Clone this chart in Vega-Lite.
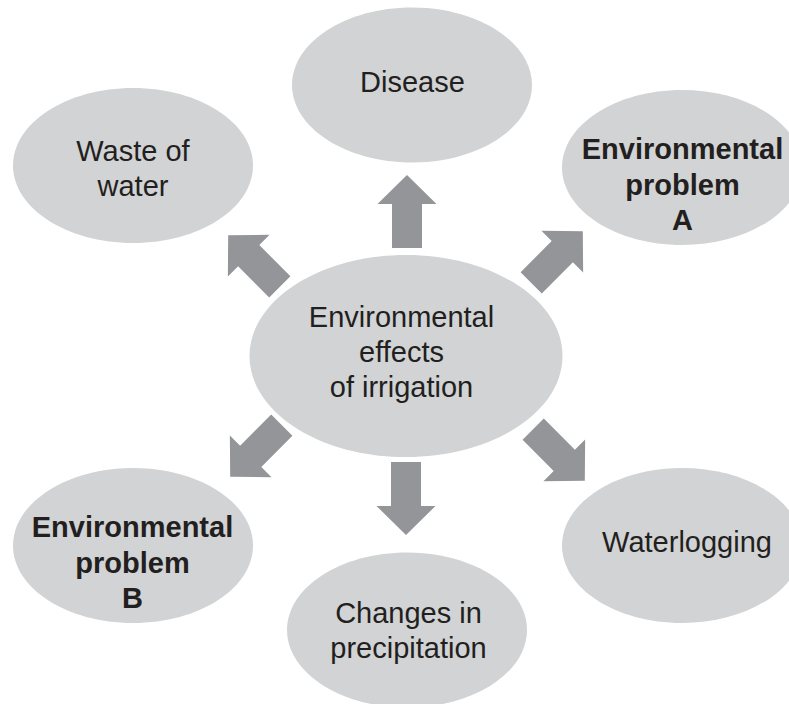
{
  "$schema": "https://vega.github.io/schema/vega-lite/v6.json",
  "width": 789,
  "height": 704,
  "autosize": {"type": "none"},
  "padding": 0,
  "background": "white",
  "config": {"view": {"stroke": null}},
  "datasets": {
    "nodes": [
      {"name": "Disease", "label": "Disease", "role": "effect", "bold": false, "cx": 412, "cy": 85, "tx": 412.5, "ty": 83},
      {"name": "Waste of water", "label": "Waste of\nwater", "role": "effect", "bold": false, "cx": 133, "cy": 165.5, "tx": 133, "ty": 152},
      {"name": "Environmental problem A", "label": "Environmental\nproblem\nA", "role": "effect", "bold": true, "cx": 682, "cy": 167.5, "tx": 682.5, "ty": 150},
      {"name": "Environmental effects of irrigation", "label": "Environmental\neffects\nof irrigation", "role": "hub", "bold": false, "cx": 406, "cy": 356, "tx": 401.5, "ty": 318},
      {"name": "Environmental problem B", "label": "Environmental\nproblem\nB", "role": "effect", "bold": true, "cx": 133, "cy": 545.5, "tx": 132.5, "ty": 528},
      {"name": "Changes in precipitation", "label": "Changes in\nprecipitation", "role": "effect", "bold": false, "cx": 407, "cy": 630, "tx": 408.5, "ty": 614},
      {"name": "Waterlogging", "label": "Waterlogging", "role": "effect", "bold": false, "cx": 682, "cy": 545.5, "tx": 687, "ty": 543}
    ],
    "arrows": [
      {"to": "Disease", "ax": 407, "ay": 211.5, "heading": 0},
      {"to": "Environmental problem A", "ax": 557, "ay": 257, "heading": 45},
      {"to": "Waterlogging", "ax": 559, "ay": 455, "heading": 135},
      {"to": "Changes in precipitation", "ax": 406, "ay": 498.5, "heading": 180},
      {"to": "Environmental problem B", "ax": 256, "ay": 451, "heading": 225},
      {"to": "Waste of water", "ax": 254, "ay": 261, "heading": 315}
    ]
  },
  "layer": [
    {
      "data": {"name": "nodes"},
      "transform": [{"filter": "datum.role === 'effect'"}],
      "mark": {"type": "point", "shape": "M -1 0 A 1 0.646 0 1 0 1 0 A 1 0.646 0 1 0 -1 0 Z", "filled": true, "fill": "#d1d3d4", "opacity": 1, "strokeWidth": 0, "size": 57600},
      "encoding": {
        "x": {"field": "cx", "type": "quantitative", "scale": {"domain": [0, 789], "nice": false, "zero": false}, "axis": null},
        "y": {"field": "cy", "type": "quantitative", "scale": {"domain": [0, 704], "nice": false, "zero": false, "reverse": true}, "axis": null}
      }
    },
    {
      "data": {"name": "nodes"},
      "transform": [{"filter": "datum.role === 'hub'"}],
      "mark": {"type": "point", "shape": "M -1 0 A 1 0.646 0 1 0 1 0 A 1 0.646 0 1 0 -1 0 Z", "filled": true, "fill": "#d1d3d4", "opacity": 1, "strokeWidth": 0, "size": 97969},
      "encoding": {
        "x": {"field": "cx", "type": "quantitative", "scale": {"domain": [0, 789], "nice": false, "zero": false}, "axis": null},
        "y": {"field": "cy", "type": "quantitative", "scale": {"domain": [0, 704], "nice": false, "zero": false, "reverse": true}, "axis": null}
      }
    },
    {
      "data": {"name": "arrows"},
      "mark": {"type": "point", "shape": "M 0 -1 L 0.808 -0.205 L 0.411 -0.205 L 0.411 1 L -0.411 1 L -0.411 -0.205 L -0.808 -0.205 Z", "filled": true, "fill": "#939598", "opacity": 1, "strokeWidth": 0, "size": 5329},
      "encoding": {
        "x": {"field": "ax", "type": "quantitative", "scale": {"domain": [0, 789], "nice": false, "zero": false}, "axis": null},
        "y": {"field": "ay", "type": "quantitative", "scale": {"domain": [0, 704], "nice": false, "zero": false, "reverse": true}, "axis": null},
        "angle": {"field": "heading", "type": "quantitative", "scale": null}
      }
    },
    {
      "data": {"name": "nodes"},
      "transform": [{"filter": "!datum.bold"}],
      "mark": {"type": "text", "font": "Liberation Sans", "fontSize": 29, "fontWeight": "normal", "fill": "#231f20", "align": "center", "baseline": "middle", "lineBreak": "\n", "lineHeight": 35},
      "encoding": {
        "x": {"field": "tx", "type": "quantitative", "scale": {"domain": [0, 789], "nice": false, "zero": false}, "axis": null},
        "y": {"field": "ty", "type": "quantitative", "scale": {"domain": [0, 704], "nice": false, "zero": false, "reverse": true}, "axis": null},
        "text": {"field": "label", "type": "nominal"}
      }
    },
    {
      "data": {"name": "nodes"},
      "transform": [{"filter": "datum.bold"}],
      "mark": {"type": "text", "font": "Liberation Sans", "fontSize": 29, "fontWeight": "bold", "fill": "#231f20", "align": "center", "baseline": "middle", "lineBreak": "\n", "lineHeight": 35.5},
      "encoding": {
        "x": {"field": "tx", "type": "quantitative", "scale": {"domain": [0, 789], "nice": false, "zero": false}, "axis": null},
        "y": {"field": "ty", "type": "quantitative", "scale": {"domain": [0, 704], "nice": false, "zero": false, "reverse": true}, "axis": null},
        "text": {"field": "label", "type": "nominal"}
      }
    }
  ]
}
